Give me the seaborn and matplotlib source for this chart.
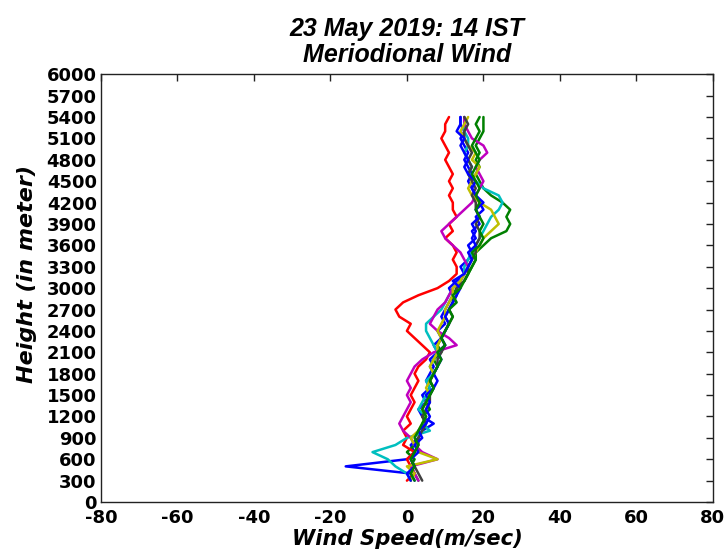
import numpy as np
import pandas as pd
import matplotlib
matplotlib.use("Agg")
import matplotlib.pyplot as plt
import seaborn as sns

heights = list(range(300, 5401, 100))

blue1 = [2, 1, -16, 0, 2, 1, 3, 4, 7, 4, 3, 5, 4, 6, 5, 6, 7, 6, 8, 7, 9, 8, 10, 9, 10, 11,
         12, 11, 13, 15, 14, 16, 17, 16, 18, 17, 19, 18, 20, 19, 18, 17, 16, 17, 16, 15, 16,
         15, 14, 15, 14, 14]
green1 = [3, 2, 1, 2, 0, 2, 3, 4, 5, 4, 6, 5, 6, 7, 6, 7, 8, 7, 9, 8, 9, 10, 11, 10, 11, 12,
          12, 13, 15, 16, 17, 18, 18, 20, 22, 26, 27, 26, 27, 25, 22, 20, 19, 18, 19, 18, 19,
          18, 19, 20, 20, 20]
red1 = [0, 2, 1, 0, 2, -1, 0, -1, 1, 0, 1, 2, 1, 2, 3, 2, 3, 5, 6, 4, 2, 0, 1, -2, -3, -1,
        3, 8, 11, 13, 13, 12, 13, 12, 10, 12, 11, 13, 12, 12, 11, 12, 11, 12, 11, 10, 11, 10,
        9, 10, 10, 11]
cyan1 = [1, 0, -3, -5, -9, -3, 0, 6, 4, 5, 3, 4, 5, 6, 5, 7, 6, 7, 8, 7, 6, 5, 5, 7, 9, 10,
         11, 12, 14, 15, 15, 16, 17, 18, 19, 20, 21, 22, 24, 25, 24, 20, 18, 16, 17, 16, 15,
         16, 16, 15, 15, 15]
magenta1 = [3, 2, 1, 8, 4, 2, 1, -1, -2, -1, 0, 1, 0, 1, 0, 1, 2, 4, 7, 13, 11, 8, 6, 7, 8,
            10, 11, 12, 14, 15, 16, 15, 14, 12, 10, 9, 11, 13, 15, 17, 18, 19, 20, 19, 18, 19,
            21, 20, 17, 16, 15, 15]
yellow1 = [1, 2, 0, 8, 3, 2, 1, 3, 4, 5, 4, 5, 6, 5, 6, 7, 6, 7, 8, 8, 9, 8, 9, 10, 10, 11,
           12, 12, 14, 15, 16, 17, 18, 19, 20, 22, 24, 23, 22, 19, 17, 16, 17, 18, 19, 17, 18,
           16, 15, 14, 15, 16]
black1 = [4, 3, 2, 1, 2, 3, 3, 4, 5, 4, 5, 6, 6, 7, 6, 7, 8, 8, 9, 10, 9, 10, 11, 12, 11, 12,
          13, 13, 15, 16, 16, 17, 18, 18, 19, 19, 18, 19, 18, 18, 17, 18, 17, 16, 17, 16, 17,
          16, 15, 15, 16, 15]
blue2 = [1, 0, 2, 1, 3, 2, 4, 3, 5, 6, 5, 6, 5, 7, 8, 7, 8, 9, 8, 10, 9, 10, 11, 10, 11, 12,
         13, 14, 12, 15, 16, 17, 16, 18, 17, 18, 17, 19, 18, 20, 18, 17, 18, 16, 15, 16, 15,
         14, 15, 13, 14, 14]
green2 = [2, 1, 2, 1, 2, 3, 2, 3, 4, 5, 4, 5, 6, 7, 6, 7, 8, 9, 8, 10, 9, 10, 11, 12, 11, 13,
          12, 14, 15, 16, 17, 18, 17, 19, 20, 19, 20, 19, 18, 19, 18, 19, 18, 17, 18, 19, 18,
          17, 18, 19, 18, 19]

series_names = ["blue1", "green1", "red1", "cyan1", "magenta1", "yellow1", "black1", "blue2", "green2"]
series_values = [blue1, green1, red1, cyan1, magenta1, yellow1, black1, blue2, green2]
series_colors = ["#0000ff", "#008000", "#ff0000", "#00bfbf", "#bf00bf", "#bfbf00", "#404040", "#0000ff", "#008000"]

x_ticks = [-80, -60, -40, -20, 0, 20, 40, 60, 80]
y_ticks = list(range(0, 6001, 300))

rows = []
for name, vals in zip(series_names, series_values):
    for i, (h, v) in enumerate(zip(heights, vals)):
        rows.append({"series": name, "height": h, "speed": v, "order": i})
df = pd.DataFrame(rows)

sns.set_theme(style="white")
plt.rcParams["font.family"] = ["Liberation Sans", "DejaVu Sans"]
plt.rcParams["text.color"] = "black"

fig = plt.figure(figsize=(7.26, 5.57), dpi=100)
ax = fig.add_axes([0.139, 0.0987, 0.843, 0.768])

sns.lineplot(data=df, x="speed", y="height", hue="series", hue_order=series_names,
             palette=dict(zip(series_names, series_colors)), sort=False, estimator=None,
             legend=False, linewidth=1.8, ax=ax)

ax.set_xlim(-80, 80)
ax.set_ylim(0, 6000)
ax.set_xticks(x_ticks)
ax.set_yticks(y_ticks)
ax.set_xticklabels([str(t) for t in x_ticks], fontsize=13, fontweight="bold",
                   family=["DejaVu Sans"], color="black")
ax.set_yticklabels([str(t) for t in y_ticks], fontsize=13, fontweight="bold",
                   family=["DejaVu Sans"], color="black")
ax.tick_params(direction="in", length=5, width=1, top=True, right=True, colors="#222222")
ax.tick_params(axis="x", pad=5)
ax.tick_params(axis="y", pad=3)
for lab in ax.get_xticklabels() + ax.get_yticklabels():
    lab.set_color("black")
for s in ax.spines.values():
    s.set_visible(True)
    s.set_color("#222222")
    s.set_linewidth(1.0)

ax.set_xlabel("Wind Speed(m/sec)", fontsize=15.2, fontweight="bold", style="italic",
              color="black", family=["DejaVu Sans"])
ax.xaxis.set_label_coords(0.5, -0.063)
ax.set_ylabel("Height (in meter)", fontsize=16, fontweight="bold", style="italic",
              color="black", family=["DejaVu Sans"])
ax.yaxis.set_label_coords(-0.1046, 0.533)
ax.set_title("23 May 2019: 14 IST\nMeriodional Wind", fontsize=18, fontweight="bold",
             style="italic", pad=9, linespacing=1.1, color="black")

fig.savefig("out.png", dpi=100)
